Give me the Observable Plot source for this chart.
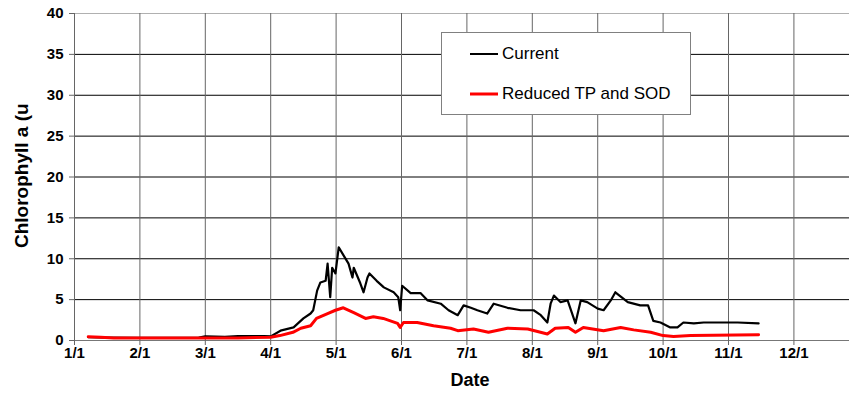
<!DOCTYPE html>
<html>
<head>
<meta charset="utf-8">
<script src="https://cdn.jsdelivr.net/npm/d3@7"></script>
<script src="https://cdn.jsdelivr.net/npm/@observablehq/plot@0.6"></script>
<style>
  body { margin: 0; background: #fff; }
  #wrap { position: relative; width: 849px; height: 395px; font-family: "Liberation Sans", Arial, sans-serif; }
  #legend { position: absolute; left: 441px; top: 32px; width: 248px; height: 81px; background: #fff; border: 1px solid #808080; box-sizing: content-box; }
  .item { position: absolute; left: 28px; height: 20px; display: flex; align-items: center; font-size: 17px; color: #000; }
  .sw { width: 28px; margin-right: 4px; }
</style>
</head>
<body>
<div id="wrap"></div>
<script>
// x positions are months since 1 Jan (0 = 1/1, 1 = 2/1, ...)
const monthLabels = ["1/1","2/1","3/1","4/1","5/1","6/1","7/1","8/1","9/1","10/1","11/1","12/1"];
const yTicks = [0,5,10,15,20,25,30,35,40];
const seriesNames = ["Current", "Reduced TP and SOD"];
const seriesColors = ["#000000", "#ff0000"];

const currentMonth = [0.21,0.5,1.0,1.5,1.9,2.0,2.3,2.5,2.9,3.0,3.15,3.35,3.5,3.61,3.65,3.71,3.76,3.84,3.87,3.91,3.94,3.99,4.04,4.1,4.19,4.25,4.27,4.37,4.42,4.48,4.51,4.62,4.73,4.88,4.95,4.98,5.01,5.14,5.29,5.4,5.6,5.72,5.86,5.95,6.06,6.16,6.31,6.41,6.62,6.82,7.02,7.13,7.23,7.28,7.33,7.43,7.54,7.66,7.74,7.84,8.0,8.09,8.2,8.27,8.46,8.65,8.77,8.85,8.96,9.11,9.22,9.31,9.47,9.62,9.88,10.14,10.46];
const currentValue = [0.40,0.35,0.32,0.33,0.35,0.5,0.45,0.55,0.55,0.5,1.2,1.6,2.7,3.3,3.7,6.1,7.1,7.3,9.4,5.3,8.9,8.2,11.4,10.6,9.4,7.7,8.9,7.0,5.9,7.7,8.2,7.3,6.5,5.9,5.3,3.7,6.7,5.8,5.8,4.9,4.5,3.7,3.1,4.3,4.0,3.7,3.3,4.5,4.0,3.7,3.7,3.1,2.2,4.5,5.5,4.7,4.9,2.1,4.9,4.7,3.9,3.7,4.9,5.9,4.7,4.3,4.3,2.4,2.2,1.6,1.6,2.2,2.1,2.2,2.2,2.2,2.1];

const reducedMonth = [0.21,0.4,0.6,1.0,1.5,2.0,2.5,3.0,3.14,3.34,3.46,3.61,3.7,3.87,3.99,4.11,4.27,4.45,4.57,4.72,4.94,4.98,5.03,5.24,5.49,5.75,5.86,6.1,6.33,6.62,6.93,7.23,7.35,7.55,7.66,7.78,8.09,8.35,8.55,8.81,9.0,9.16,9.42,10.46];
const reducedValue = [0.45,0.4,0.3,0.3,0.3,0.3,0.32,0.4,0.6,1.0,1.5,1.8,2.7,3.3,3.7,4.0,3.4,2.7,2.9,2.7,2.1,1.6,2.2,2.2,1.8,1.5,1.2,1.4,1.0,1.5,1.4,0.8,1.5,1.6,1.0,1.6,1.2,1.6,1.3,1.0,0.6,0.5,0.6,0.7];

const current = currentMonth.map((m, i) => ({m, v: currentValue[i]}));
const reduced = reducedMonth.map((m, i) => ({m, v: reducedValue[i]}));
const monthTicks = monthLabels.map((_, i) => i);
const gridY = yTicks.filter(t => t > 0 && t < 40);

const font = "Liberation Sans, Arial, sans-serif";
const chart = Plot.plot({
  width: 849, height: 395,
  marginLeft: 74, marginRight: 0, marginTop: 13, marginBottom: 55,
  style: {fontFamily: font, background: "#fff", color: "#000", overflow: "visible"},
  x: {domain: [0, 11.85]},
  y: {domain: [0, 40]},
  marks: [
    Plot.ruleY(gridY, {stroke: "#000", strokeWidth: 1}),
    Plot.ruleY([40], {stroke: "#b0b0b0", strokeWidth: 1}),
    Plot.ruleX(monthTicks.slice(1), {stroke: "#666", strokeWidth: 1}),
    Plot.ruleX([0], {stroke: "#666", strokeWidth: 1}),
    Plot.ruleY([0], {stroke: "#777", strokeWidth: 1}),
    Plot.axisY({ticks: yTicks, tickSize: 5, tickPadding: 6, fontSize: 15, fontWeight: "bold", label: null, stroke: "#666"}),
    Plot.axisX({ticks: monthTicks, tickFormat: i => monthLabels[i], tickSize: 5, tickPadding: 2, fontSize: 15, fontWeight: "bold", label: null, stroke: "#666"}),
    Plot.line(current, {x: "m", y: "v", stroke: seriesColors[0], strokeWidth: 2.2}),
    Plot.line(reduced, {x: "m", y: "v", stroke: seriesColors[1], strokeWidth: 3}),
    Plot.text(["Date"], {frameAnchor: "bottom", dx: 8, dy: 45, fontSize: 18, fontWeight: "bold", fill: "#000"}),
    Plot.text(["Chlorophyll a (u"], {frameAnchor: "left", rotate: -90, textAnchor: "start", dx: -53, dy: 71, fontSize: 19, fontWeight: "bold", fill: "#000"})
  ]
});
const wrap = document.getElementById("wrap");
wrap.appendChild(chart);

const legend = document.createElement("div");
legend.id = "legend";
const tops = [11, 51];
const widths = [2, 3];
seriesNames.forEach((name, i) => {
  const it = document.createElement("div");
  it.className = "item";
  it.style.top = tops[i] + "px";
  it.innerHTML = `<svg class="sw" width="28" height="6"><line x1="0" x2="28" y1="3" y2="3" stroke="${seriesColors[i]}" stroke-width="${widths[i]}"/></svg><span>${name}</span>`;
  legend.appendChild(it);
});
wrap.appendChild(legend);
</script>
</body>
</html>
